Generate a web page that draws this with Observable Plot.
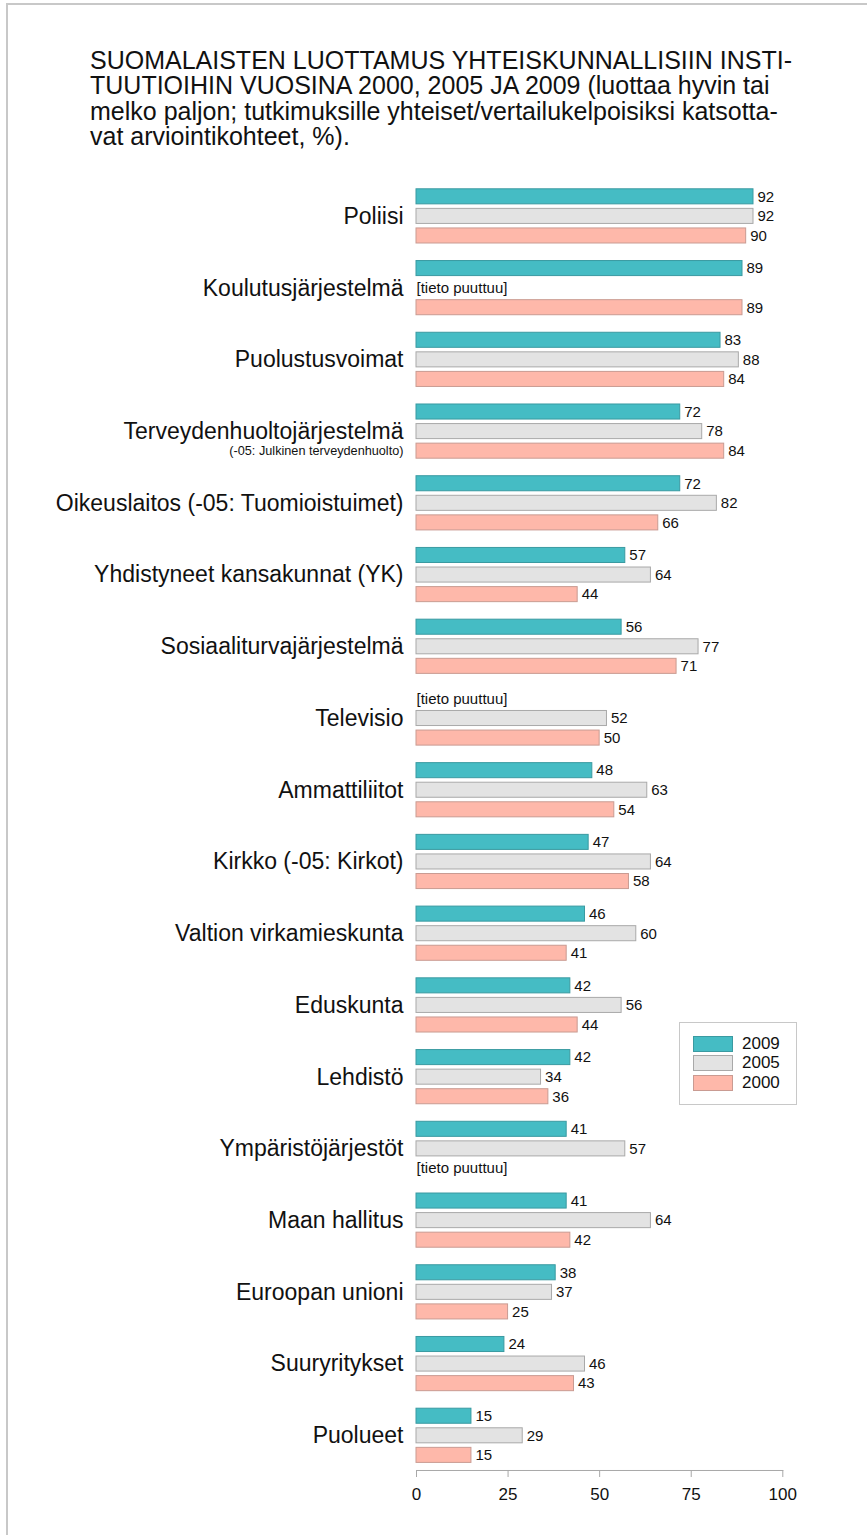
<!DOCTYPE html>
<html>
<head>
<meta charset="utf-8">
<script src="https://cdn.jsdelivr.net/npm/d3@7"></script>
<script src="https://cdn.jsdelivr.net/npm/@observablehq/plot@0.6"></script>
<style>
  html, body { margin: 0; padding: 0; background: #fff; }
  body { width: 867px; height: 1535px; position: relative; overflow: hidden; font-family: "Liberation Sans", Arial, sans-serif; }
  #frame { position: absolute; left: 6px; top: 3px; right: -10px; bottom: -10px; border-left: 2px solid #c8c8c8; border-top: 2px solid #c8c8c8; }
  #title { position: absolute; left: 90px; top: 47.5px; font-size: 25px; line-height: 25.6px; color: #111; white-space: nowrap; }
  #chart { position: absolute; left: 0; top: 170px; }
  #chart g[aria-label="x-axis tick label"] { fill: #111; }
  #legend { position: absolute; left: 679px; top: 1022px; width: 116px; height: 81px; border: 1.5px solid #c8c8c8; background: #fff; }
  .sw { position: absolute; left: 13px; width: 38px; height: 14px; border: 1px solid #999; }
  .lt { position: absolute; left: 62px; font-size: 17px; line-height: 17px; color: #111; }
</style>
</head>
<body>
<div id="frame"></div>
<div id="title"></div>
<div id="chart"></div>
<div id="legend"></div>
<script>
const titleLines = [
  "SUOMALAISTEN LUOTTAMUS YHTEISKUNNALLISIIN INSTI-",
  "TUUTIOIHIN VUOSINA 2000, 2005 JA 2009 (luottaa hyvin tai",
  "melko paljon; tutkimuksille yhteiset/vertailukelpoisiksi katsotta-",
  "vat arviointikohteet, %)."
];
const institutions = [
  "Poliisi", "Koulutusjärjestelmä", "Puolustusvoimat", "Terveydenhuoltojärjestelmä",
  "Oikeuslaitos (-05: Tuomioistuimet)", "Yhdistyneet kansakunnat (YK)", "Sosiaaliturvajärjestelmä",
  "Televisio", "Ammattiliitot", "Kirkko (-05: Kirkot)", "Valtion virkamieskunta", "Eduskunta",
  "Lehdistö", "Ympäristöjärjestöt", "Maan hallitus", "Euroopan unioni", "Suuryritykset", "Puolueet"
];
const sublabelInstitution = "Terveydenhuoltojärjestelmä";
const sublabel = "(-05: Julkinen terveydenhuolto)";
const years = ["2009", "2005", "2000"];
const values2009 = [92, 89, 83, 72, 72, 57, 56, null, 48, 47, 46, 42, 42, 41, 41, 38, 24, 15];
const values2005 = [92, null, 88, 78, 82, 64, 77, 52, 63, 64, 60, 56, 34, 57, 64, 37, 46, 29];
const values2000 = [90, 89, 84, 84, 66, 44, 71, 50, 54, 58, 41, 44, 36, null, 42, 25, 43, 15];
const missingText = "[tieto puuttuu]";
const xTicks = [0, 25, 50, 75, 100];
const fills = ["#45bcc4", "#e3e3e3", "#feb8aa"];
const strokes = ["#3a9aa1", "#a9a9a9", "#c99b92"];

document.getElementById("title").innerHTML = titleLines.join("<br>");

const series = [values2009, values2005, values2000];
const rows = [];
const missing = [];
series.forEach((vals, s) => {
  vals.forEach((v, i) => {
    if (v == null) missing.push({inst: institutions[i], year: years[s]});
    else rows.push({inst: institutions[i], year: years[s], value: v, s});
  });
});

const font = "Liberation Sans, Arial, sans-serif";
const barMarks = years.map((yr, s) =>
  Plot.barX(rows.filter(d => d.s === s), {
    x: "value", y: "year", fy: "inst",
    fill: fills[s], stroke: strokes[s], strokeWidth: 1,
    insetTop: 0.5, insetBottom: 0.5
  })
);

const chart = Plot.plot({
  width: 867,
  height: 1365,
  marginLeft: 416,
  marginRight: 84.7,
  marginTop: 18.3,
  marginBottom: 65,
  style: {fontFamily: font, fontSize: "17px", color: "#a8a8a8", background: "transparent", overflow: "visible"},
  x: {domain: [0, 100], ticks: xTicks, tickSize: 7, tickPadding: 10, line: true, label: null},
  y: {domain: years, paddingInner: 0.18, paddingOuter: 0, insetBottom: 7.1, round: false, axis: null},
  fy: {domain: institutions, paddingInner: 0.1315, paddingOuter: 0, round: false, axis: null, label: null},
  marks: [
    ...barMarks,
    Plot.text(rows, {x: "value", y: "year", fy: "inst", text: d => String(d.value), dx: 4, textAnchor: "start", fontSize: 15, fill: "#111"}),
    Plot.text(missing, {x: 0, y: "year", fy: "inst", text: () => missingText, textAnchor: "start", fontSize: 15, fill: "#111"}),
    Plot.text(institutions, {fy: d => d, y: () => years[1], text: d => d, frameAnchor: "left", dx: -13, textAnchor: "end", fontSize: 23, fill: "#111"}),
    Plot.text([sublabel], {fy: [sublabelInstitution], y: () => years[2], text: d => d, frameAnchor: "left", dx: -13, textAnchor: "end", fontSize: 12.7, fill: "#111"})
  ]
});
document.getElementById("chart").appendChild(chart);

const legend = document.getElementById("legend");
const swTops = [13, 32, 52];
years.forEach((yr, s) => {
  const sw = document.createElement("div");
  sw.className = "sw";
  sw.style.top = swTops[s] + "px";
  sw.style.background = fills[s];
  sw.style.borderColor = strokes[s];
  legend.appendChild(sw);
  const t = document.createElement("div");
  t.className = "lt";
  t.style.top = (swTops[s] - 1) + "px";
  t.textContent = yr;
  legend.appendChild(t);
});
</script>
</body>
</html>
